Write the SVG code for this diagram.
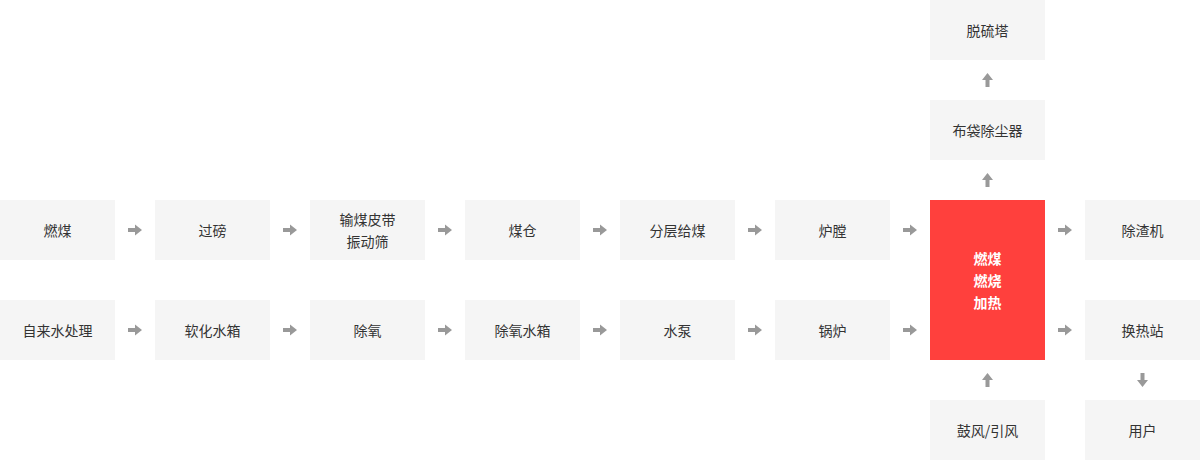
<svg xmlns="http://www.w3.org/2000/svg" width="1200" height="460" viewBox="0 0 1200 460">
<style>
.b{fill:#f5f5f5}
.t{font-family:"Noto Sans CJK SC","Noto Sans",sans-serif;font-size:14px;fill:#333;text-anchor:middle;dominant-baseline:central}
.w{font-family:"Noto Sans CJK SC","Noto Sans",sans-serif;font-size:14px;font-weight:bold;fill:#fff;text-anchor:middle;dominant-baseline:central}
.a{fill:#999}
</style>
<defs>
<path id="ar" d="M-7,-2 H0 V-5.5 L7,0 L0,5.5 V2 H-7 Z"/>
</defs>
<rect width="1200" height="460" fill="#fff"/>
<g id="n1"><rect class="b" x="0" y="200" width="115" height="60"/><text class="t" x="57.5" y="230">燃煤</text></g>
<g id="n2"><rect class="b" x="155" y="200" width="115" height="60"/><text class="t" x="212.5" y="230">过磅</text></g>
<g id="n3"><rect class="b" x="310" y="200" width="115" height="60"/><text class="t" x="367.5" y="219">输煤皮带</text><text class="t" x="367.5" y="241">振动筛</text></g>
<g id="n4"><rect class="b" x="465" y="200" width="115" height="60"/><text class="t" x="522.5" y="230">煤仓</text></g>
<g id="n5"><rect class="b" x="620" y="200" width="115" height="60"/><text class="t" x="677.5" y="230">分层给煤</text></g>
<g id="n6"><rect class="b" x="775" y="200" width="115" height="60"/><text class="t" x="832.5" y="230">炉膛</text></g>
<g id="n7"><rect class="b" x="0" y="300" width="115" height="60"/><text class="t" x="57.5" y="330">自来水处理</text></g>
<g id="n8"><rect class="b" x="155" y="300" width="115" height="60"/><text class="t" x="212.5" y="330">软化水箱</text></g>
<g id="n9"><rect class="b" x="310" y="300" width="115" height="60"/><text class="t" x="367.5" y="330">除氧</text></g>
<g id="n10"><rect class="b" x="465" y="300" width="115" height="60"/><text class="t" x="522.5" y="330">除氧水箱</text></g>
<g id="n11"><rect class="b" x="620" y="300" width="115" height="60"/><text class="t" x="677.5" y="330">水泵</text></g>
<g id="n12"><rect class="b" x="775" y="300" width="115" height="60"/><text class="t" x="832.5" y="330">锅炉</text></g>
<g id="n13"><rect x="930" y="200" width="115" height="160" fill="#ff403d"/><text class="w" x="987.5" y="258">燃煤</text><text class="w" x="987.5" y="280">燃烧</text><text class="w" x="987.5" y="302">加热</text></g>
<g id="n14"><rect class="b" x="930" y="0" width="115" height="60"/><text class="t" x="987.5" y="30">脱硫塔</text></g>
<g id="n15"><rect class="b" x="930" y="100" width="115" height="60"/><text class="t" x="987.5" y="130">布袋除尘器</text></g>
<g id="n16"><rect class="b" x="930" y="400" width="115" height="60"/><text class="t" x="987.5" y="430">鼓风/引风</text></g>
<g id="n17"><rect class="b" x="1085" y="200" width="115" height="60"/><text class="t" x="1142.5" y="230">除渣机</text></g>
<g id="n18"><rect class="b" x="1085" y="300" width="115" height="60"/><text class="t" x="1142.5" y="330">换热站</text></g>
<g id="n19"><rect class="b" x="1085" y="400" width="115" height="60"/><text class="t" x="1142.5" y="430">用户</text></g>
<g id="connectors" class="a">
<use href="#ar" x="135" y="230"/><use href="#ar" x="290" y="230"/><use href="#ar" x="445" y="230"/><use href="#ar" x="600" y="230"/><use href="#ar" x="755" y="230"/><use href="#ar" x="910" y="230"/><use href="#ar" x="1065" y="230"/>
<use href="#ar" x="135" y="330"/><use href="#ar" x="290" y="330"/><use href="#ar" x="445" y="330"/><use href="#ar" x="600" y="330"/><use href="#ar" x="755" y="330"/><use href="#ar" x="910" y="330"/><use href="#ar" x="1065" y="330"/>
<use href="#ar" transform="translate(987.5,180) rotate(-90)"/>
<use href="#ar" transform="translate(987.5,80) rotate(-90)"/>
<use href="#ar" transform="translate(987.5,380) rotate(-90)"/>
<use href="#ar" transform="translate(1142.5,380) rotate(90)"/>
</g>
</svg>
